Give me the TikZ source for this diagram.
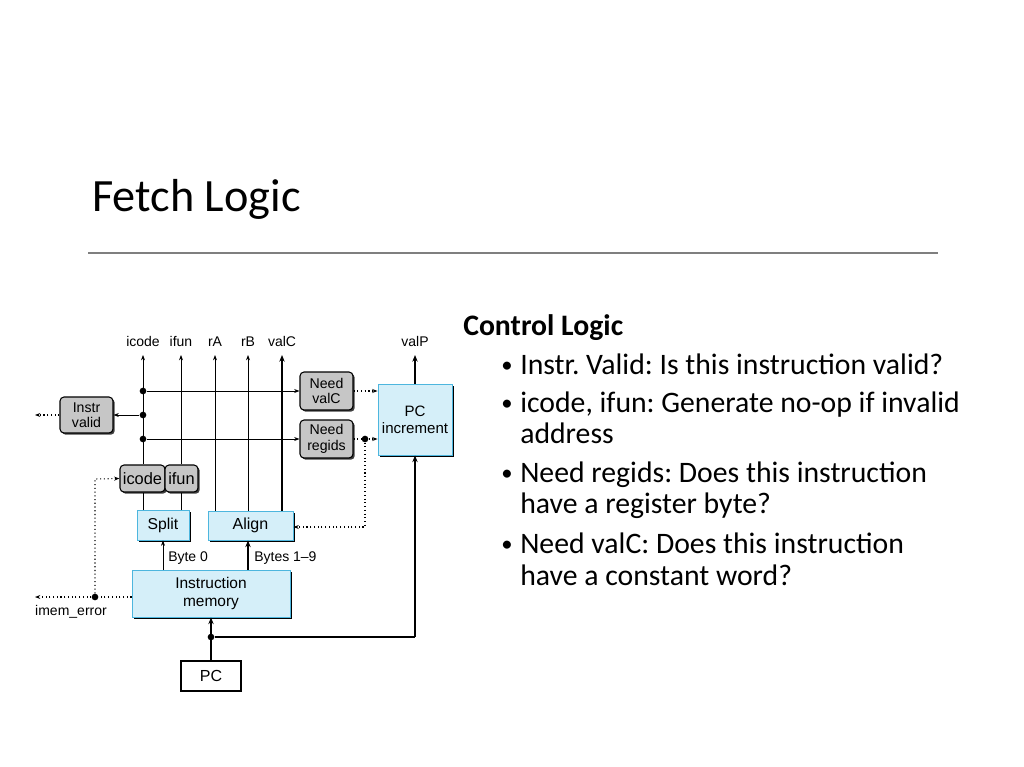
\documentclass[tikz,border=0pt]{standalone}
\usepackage{fontspec}
\setmainfont{Carlito}
\newfontfamily\diag{Liberation Sans}
\usetikzlibrary{arrows.meta,shadows}
\definecolor{boxgray}{HTML}{C6C6C6}
\definecolor{boxblue}{HTML}{D5EFF9}
\definecolor{blueline}{HTML}{4DB6DE}
\definecolor{rulegray}{HTML}{7F7F7F}
\frenchspacing
\tikzset{
  gbox/.style={draw=black, line width=0.8pt, fill=boxgray, rounded corners=3pt, align=center, inner sep=0pt,
    drop shadow={shadow xshift=1.3pt, shadow yshift=-1.3pt, fill=black!75, opacity=1}, font=\diag\fontsize{10.6}{11.6}\selectfont},
  bbox/.style={draw=blueline, line width=0.7pt, fill=boxblue, align=center, inner sep=0pt,
    drop shadow={shadow xshift=1.8pt, shadow yshift=-1.8pt, fill=black, opacity=1}, font=\diag\fontsize{11.6}{13.5}\selectfont},
  wbox/.style={draw=black, line width=0.9pt, fill=white, align=center, inner sep=0pt, font=\diag\fontsize{12}{13}\selectfont},
  lab/.style={font=\diag\fontsize{10.5}{12}\selectfont, inner sep=0pt},
  toplab/.style={lab, anchor=base},
  thin/.style={line width=0.55pt, -{Stealth[length=4pt,width=3pt]}},
  thick/.style={line width=1.6pt, -{Stealth[length=5pt,width=4pt]}},
  thickline/.style={line width=1.6pt},
  dots/.style={line width=0.8pt, dotted, -{Stealth[length=4pt,width=3pt]}},
  dotline/.style={line width=0.8pt, dotted},
  jdot/.style={circle, fill=black, inner sep=0pt, minimum size=5pt},
  slide/.style={anchor=base west, inner sep=0pt, font=\fontsize{22.3}{26}\selectfont},
  bul/.style={anchor=base, inner sep=0pt, font=\fontsize{17}{20}\selectfont},
}
\begin{document}
\begin{tikzpicture}[x=0.75pt,y=-0.75pt]
\useasboundingbox (0,0) rectangle (1024,767);
% title
\node[anchor=base west, inner sep=0pt, font=\fontsize{34.7}{40}\selectfont] (title) at (92,211) {Fetch Logic};
\draw[rulegray, line width=1.1pt] (88,253) -- (938,253);
% right text
\node[slide, font=\bfseries\fontsize{22.3}{26}\selectfont] (cl) at (463,335) {Control Logic};
\node[bul] (b1) at (507,372) {•};
\node[slide] (t1) at (520,374) {Instr. Valid: Is this instruction valid?};
\node[bul] (b2) at (507,410) {•};
\node[slide] (t2) at (520,412) {icode, ifun: Generate no-op if invalid};
\node[slide] (t2b) at (520,443) {address};
\node[bul] (b3) at (507,480) {•};
\node[slide] (t3) at (520,482) {Need regids: Does this instruction};
\node[slide] (t3b) at (520,513) {have a register byte?};
\node[bul] (b4) at (507,551) {•};
\node[slide] (t4) at (520,553) {Need valC: Does this instruction};
\node[slide] (t4b) at (520,585) {have a constant word?};

% top labels
\node[toplab] (Licode) at (143,346) {icode};
\node[toplab] (Lifun) at (181,346) {ifun};
\node[toplab] (LrA) at (215,346) {rA};
\node[toplab] (LrB) at (248,346) {rB};
\node[toplab] (LvalC) at (282,346) {valC};
\node[toplab] (LvalP) at (415,346) {valP};
\coordinate (ticode) at (143,355);
\coordinate (tifun) at (181,355);
\coordinate (trA) at (215,355);
\coordinate (trB) at (248,355);
\coordinate (tvalC) at (282,355);
\coordinate (tvalP) at (415,355);

% boxes
\node[gbox, minimum width=39.75pt, minimum height=27pt] (iv) at (86.5,415) {Instr\\valid};
\node[gbox, minimum width=39.75pt, minimum height=28.5pt] (nvc) at (326.5,391) {Need\\valC};
\node[gbox, minimum width=39.75pt, minimum height=28.5pt] (nrg) at (326.5,439) {Need\\regids};
\node[bbox, minimum width=55.5pt, minimum height=53.25pt, font=\diag\fontsize{11.3}{13}\selectfont] (pci) at (415,419.5) {PC\\increment};
\node[gbox, minimum width=33.75pt, minimum height=20.25pt, font=\diag\fontsize{12.3}{13}\selectfont] (ic) at (142.5,478.5) {icode};
\node[gbox, minimum width=24.75pt, minimum height=20.25pt, font=\diag\fontsize{12.3}{13}\selectfont] (if) at (181.5,478.5) {ifun};
\node[bbox, minimum width=39pt, minimum height=22.5pt, font=\diag\fontsize{11.8}{13}\selectfont] (split) at (163,525) {Split};
\node[bbox, minimum width=63.75pt, minimum height=21.75pt, font=\diag\fontsize{12}{13}\selectfont] (align) at (250.5,525.5) {Align};
\node[bbox, minimum width=118.5pt, minimum height=35.25pt] (im) at (211,593.5) {Instruction\\memory};
\node[wbox, minimum width=45pt, minimum height=22.5pt] (pc) at (211,676) {PC};

% junction dots
\node[jdot] (d1) at (143,391) {};
\node[jdot] (d2) at (143,415) {};
\node[jdot] (d3) at (143,439) {};
\node[jdot] (d4) at (365,439) {};
\node[jdot] (d5) at (95,597) {};
\node[jdot] (d6) at (211,637) {};
\coordinate (pcr) at (415,637);
\coordinate (alr) at (365,527);
\coordinate (icl) at (95,479);
\coordinate (ivout) at (35,415);
\coordinate (imout) at (35,597);

% vertical signal lines
\draw[thin] (ic.north -| ticode) -- (ticode);
\draw[thin] (if.north -| tifun) -- (tifun);
\draw[thin] (align.north -| trA) -- (trA);
\draw[thin] (align.north -| trB) -- (trB);
\draw[thick] (align.north -| tvalC) -- (tvalC);
\draw[line width=0.55pt] (ic.south -| ticode) -- (split.north -| ticode);
\draw[line width=0.55pt] (if.south -| tifun) -- (split.north -| tifun);

% horizontals
\draw[thin] (d1) -- (nvc.west);
\draw[thin] (d3) -- (nrg.west);
\draw[thin] (d2) -- (iv.east);
\draw[dots] (iv.west) -- (ivout);
\draw[dots] (nvc.east) -- (nvc.east -| pci.west);
\draw[dotline] (nrg.east) -- (d4);
\draw[dots] (d4) -- (d4 -| pci.west);
\draw[dots] (d4) -- (alr) -- (alr -| align.east);

% valP and PC
\draw[thick] (pci.north) -- (tvalP);
\draw[thick] (pc.north) -- (im.south);
\draw[thickline] (d6) -- (pcr);
\draw[thick] (pcr) -- (pci.south);

% bytes
\draw[thin] (im.north -| split.south) -- (split.south);
\draw[thick] (im.north -| trB) -- (align.south -| trB);
\node[lab, anchor=west] (lb0) at (168,558) {Byte 0};
\node[lab, anchor=west] (lb1) at (254,558) {Bytes 1–9};

% imem_error
\draw[dotline] (im.west |- d5) -- (d5);
\draw[dots] (d5) -- (imout);
\draw[dots] (d5) -- (icl) -- (ic.west);
\node[lab] (lerr) at (71,612) {imem\_error};
\end{tikzpicture}
\end{document}
